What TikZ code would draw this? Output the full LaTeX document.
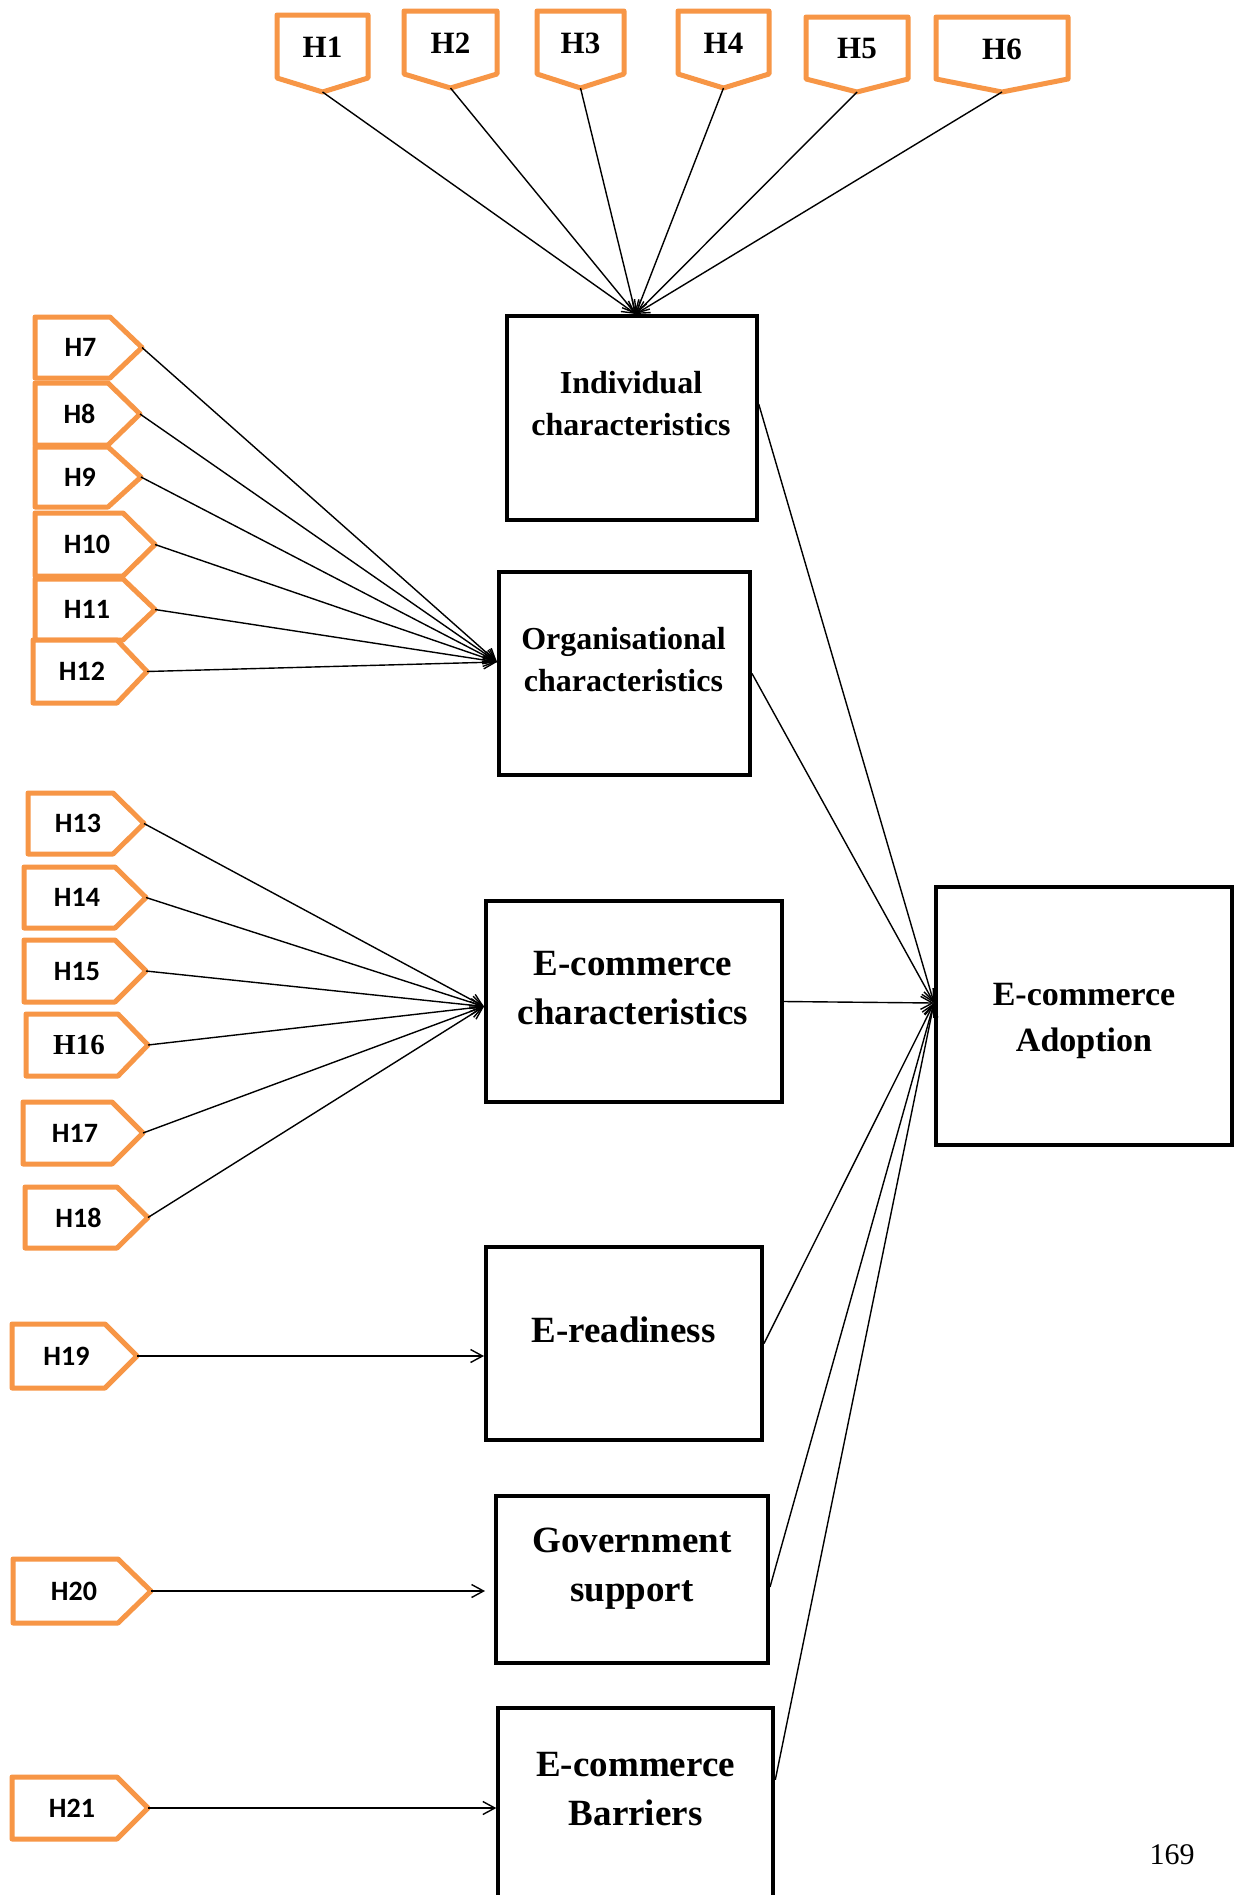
\documentclass[tikz,border=0pt]{standalone}
\usepackage{fontspec}
\setmainfont{Liberation Serif}
\newfontfamily\tagsans{Carlito}
\usetikzlibrary{arrows.meta,calc}
\definecolor{tagorange}{RGB}{247,150,70}

% Downward-pointing hypothesis tag: name, left, right, top, side bottom, tip y, label
\newcommand\downtag[7]{%
  \draw[tag] (#2,#4) -- (#3,#4) -- (#3,#5) -- ({(#2+#3)/2},#6) -- (#2,#5) -- cycle;
  \node[toplabel] (#1) at ({(#2+#3)/2},{(#4+#5)/2+1}) {#7};
  \coordinate (#1tip) at ({(#2+#3)/2},#6);
}
% Right-pointing hypothesis tag: name, left, base, tip x, top, bottom, label (font)
\newcommand\righttag[7]{%
  \draw[tag] (#2,#5) -- (#3,#5) -- (#4,{(#5+#6)/2}) -- (#3,#6) -- (#2,#6) -- cycle;
  \node[inner sep=0pt] (#1) at ({(#2+#4)/2-8},{(#5+#6)/2}) {#7};
  \coordinate (#1tip) at (#4,{(#5+#6)/2});
}
\newcommand\sanstag{\tagsans\bfseries\fontsize{28}{30}\selectfont}
\newcommand\serftag{\bfseries\fontsize{29}{31}\selectfont}

\begin{document}
\begin{tikzpicture}[x=1pt,y=-1pt,
  tag/.style={draw=tagorange, line width=5pt, line join=round, fill=white},
  toplabel/.style={inner sep=0pt, font=\fontsize{31}{33}\selectfont\bfseries},
  box/.style={draw=black, line width=4pt, inner sep=0pt, fill=white},
  smalltext/.style={inner sep=0pt, align=center, font=\fontsize{32}{42}\selectfont\bfseries},
  bigtext/.style={inner sep=0pt, align=center, font=\fontsize{37}{49}\selectfont\bfseries},
  adopttext/.style={inner sep=0pt, align=center, font=\fontsize{34}{46}\selectfont\bfseries},
  conn/.style={draw=black, line width=1.4pt, -{Straight Barb[length=12pt,width=13pt,line width=1.4pt]}}
]
\useasboundingbox (0,0) rectangle (1235,1895);
\fill[white] (0,0) rectangle (1235,1895);
\clip (0,0) rectangle (1235,1895);

% construct boxes
\node[box, minimum width=250, minimum height=204] (indiv) at (631.7,418) {};
\node[box, minimum width=251, minimum height=203] (org) at (624.5,673.5) {};
\node[box, minimum width=296, minimum height=201] (ecc) at (634,1001.5) {};
\node[box, minimum width=276, minimum height=193] (eread) at (624,1343.5) {};
\node[box, minimum width=272, minimum height=167] (gov) at (632,1579.5) {};
\node[box, minimum width=275, minimum height=228] (barr) at (635.8,1821.8) {};
\node[box, minimum width=296, minimum height=258] (adopt) at (1084,1016) {};

\node[smalltext] (indivtext) at (631,404) {Individual\\characteristics};
\node[smalltext] (orgtext) at (623.5,660) {Organisational\\characteristics};
\node[bigtext] (ecctext) at (633,988) {E-commerce\\characteristics};
\node[bigtext] (ereadtext) at (623.5,1330) {E-readiness};
\node[bigtext] (govtext) at (632,1569) {Government\\support};
\node[bigtext] (barrtext) at (635.6,1789.5) {E-commerce\\Barriers};
\node[adopttext] (adopttxt) at (1084,1021) {E-commerce\\Adoption};

% hypothesis tags above the individual box
\downtag{H1}{277}{368}{15}{78}{92}{H1}
\downtag{H2}{404}{497}{11}{74}{88}{H2}
\downtag{H3}{537}{624}{11}{74}{88}{H3}
\downtag{H4}{678}{769}{11}{74}{88}{H4}
\downtag{H5}{806}{908}{17}{79}{92}{H5}
\downtag{H6}{936}{1068}{17}{79}{92}{H6}

% hypothesis tags on the left
\righttag{H7}{35}{110}{142}{317}{378}{\sanstag H7}
\righttag{H8}{35}{108}{140}{383}{445}{\sanstag H8}
\righttag{H9}{35}{108}{141}{447}{507}{\sanstag H9}
\righttag{H10}{35}{123}{155}{513}{576}{\sanstag H10}
\righttag{H11}{35}{123}{155}{579}{640}{\sanstag H11}
\righttag{H12}{33}{117}{147}{640}{703}{\sanstag H12}
\righttag{H13}{28}{113}{144}{793}{854}{\sanstag H13}
\righttag{H14}{24}{115}{146}{867}{928}{\sanstag H14}
\righttag{H15}{24}{115}{146}{940}{1002}{\sanstag H15}
\righttag{H16}{26}{118}{148}{1014}{1076}{\serftag H16}
\righttag{H17}{23}{112}{143}{1102}{1164}{\sanstag H17}
\righttag{H18}{25}{117}{148}{1187}{1248}{\sanstag H18}
\righttag{H19}{12}{105}{137}{1324}{1388}{\sanstag H19}
\righttag{H20}{13}{118}{151}{1559}{1623}{\sanstag H20}
\righttag{H21}{12}{117}{148}{1777}{1839}{\sanstag H21}

% arrival points on the box borders
\coordinate (inIndiv) at ([xshift=4pt]indiv.north);
\coordinate (inOrg) at ([yshift=11.5pt]org.west);
\coordinate (inEcc) at ([yshift=-5pt]ecc.west);
\coordinate (inAdopt) at ([yshift=13pt]adopt.west);

\foreach \h in {H1,H2,H3,H4,H5,H6} \draw[conn] (\h tip) -- (inIndiv);
\foreach \h in {H7,H8,H9,H10,H11,H12} \draw[conn] (\h tip) -- (inOrg);
\foreach \h in {H13,H14,H15,H16,H17,H18} \draw[conn] (\h tip) -- (inEcc);
\draw[conn] (H19tip) -- (H19tip -| eread.west);
\draw[conn, shorten >=9pt] (H20tip) -- (H20tip -| gov.west);
\draw[conn] (H21tip) -- (H21tip -| barr.west);

% paths into e-commerce adoption
\draw[conn] ([yshift=14pt]indiv.east) -- (inAdopt);
\draw[conn] (org.east) -- (inAdopt);
\draw[conn] (ecc.east) -- (inAdopt);
\draw[conn] (eread.east) -- (inAdopt);
\draw[conn] ([yshift=-7.5pt]gov.east) -- (inAdopt);
\draw[conn] ($(barr.north east)+(0,74)$) -- (inAdopt);

\node[inner sep=0pt, font=\fontsize{30}{32}\selectfont] (pagenum) at (1172,1855) {169};
\end{tikzpicture}
\end{document}
